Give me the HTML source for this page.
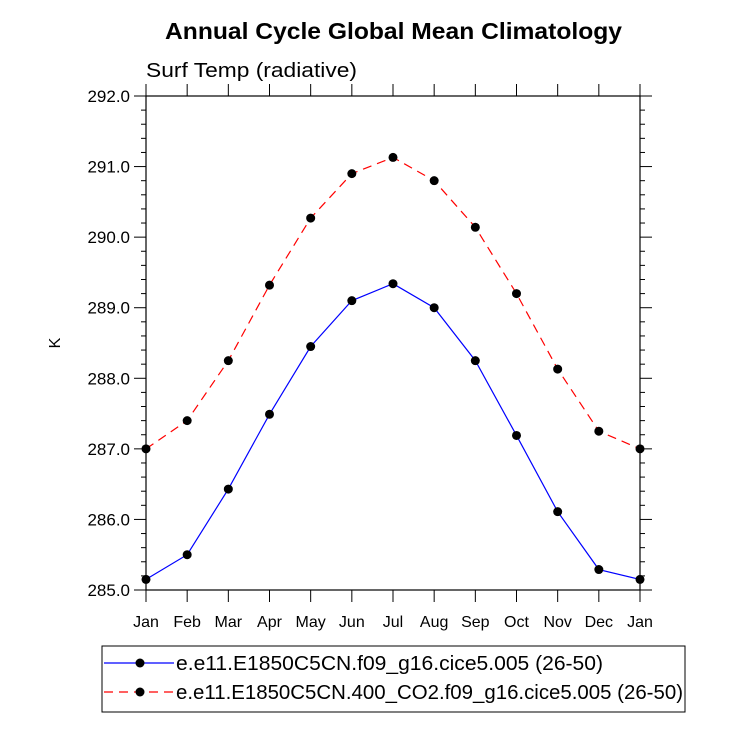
<!DOCTYPE html>
<html><head><meta charset="utf-8"><style>body{margin:0;background:#fff}svg text{font-family:"Liberation Sans",Helvetica,sans-serif}</style></head>
<body>
<svg id="c" width="732" height="732" xmlns="http://www.w3.org/2000/svg">
<text x="165" y="39" font-size="23" font-weight="bold" textLength="457" lengthAdjust="spacingAndGlyphs">Annual Cycle Global Mean Climatology</text>
<text x="146" y="77" font-size="20" textLength="211" lengthAdjust="spacingAndGlyphs">Surf Temp (radiative)</text>
<text x="60" y="343" font-size="16" text-anchor="middle" transform="rotate(-90 60 343)">K</text>
<g id="axes"></g><g id="series"></g>
<rect x="102" y="646" width="583" height="66" fill="none" stroke="#000" stroke-width="1"/>
<g><line x1="104" y1="663" x2="174" y2="663" stroke="#00f" stroke-width="1.2"/><circle cx="140" cy="663" r="4.5"/><text x="176" y="670" font-size="20" textLength="427" lengthAdjust="spacingAndGlyphs">e.e11.E1850C5CN.f09_g16.cice5.005 (26-50)</text></g>
<g><line x1="104" y1="692" x2="174" y2="692" stroke="#f00" stroke-width="1.2" stroke-dasharray="9,6"/><circle cx="140" cy="692" r="4.5"/><text x="176" y="699" font-size="20" textLength="507" lengthAdjust="spacingAndGlyphs">e.e11.E1850C5CN.400_CO2.f09_g16.cice5.005 (26-50)</text></g>
</svg>
<script>
const months=["Jan","Feb","Mar","Apr","May","Jun","Jul","Aug","Sep","Oct","Nov","Dec","Jan"];
const controlVals=[285.15,285.5,286.43,287.49,288.45,289.1,289.34,289.0,288.25,287.19,286.11,285.29,285.15];
const co2Vals=[287.0,287.4,288.25,289.32,290.27,290.9,291.13,290.8,290.14,289.2,288.13,287.25,287.0];
const yTicks=[285,286,287,288,289,290,291,292];
const L=146,R=640,T=96,B=590,ymin=285,ymax=292;
const X=i=>L+(R-L)*i/(months.length-1);
const Y=v=>B-(B-T)*(v-ymin)/(ymax-ymin);
const NS="http://www.w3.org/2000/svg";
function mk(t,a,p){const e=document.createElementNS(NS,t);for(const k in a)e.setAttribute(k,a[k]);p.appendChild(e);return e;}
const ax=document.getElementById('axes'),se=document.getElementById('series');
const fr=mk('rect',{x:L,y:T,width:R-L,height:B-T,fill:'none',stroke:'#000','stroke-width':1.2},ax);


months.forEach((m,i)=>{const x=X(i);
mk('line',{x1:x,y1:B,x2:x,y2:B+12,stroke:'#000'},ax);
mk('line',{x1:x,y1:T,x2:x,y2:T-12,stroke:'#000'},ax);
const t=mk('text',{x:x,y:B+37,'text-anchor':'middle','font-size':16},ax);t.textContent=m;

});
yTicks.forEach(v=>{const y=Y(v);
mk('line',{x1:L,y1:y,x2:L-12,y2:y,stroke:'#000'},ax);
mk('line',{x1:R,y1:y,x2:R+12,y2:y,stroke:'#000'},ax);
const t=mk('text',{x:L-16,y:y+6,'text-anchor':'end','font-size':17},ax);t.textContent=v.toFixed(1);


if(v<ymax)for(let k=1;k<5;k++){const yy=Y(v+k*0.2);
mk('line',{x1:L,y1:yy,x2:L-5,y2:yy,stroke:'#000'},ax);
mk('line',{x1:R,y1:yy,x2:R+5,y2:yy,stroke:'#000'},ax);}});
function draw(vals,col,dash,name){const g=mk('g',{},se);


mk('polyline',{points:vals.map((v,i)=>X(i)+','+Y(v)).join(' '),fill:'none',stroke:col,'stroke-width':1.2,'stroke-dasharray':dash},g);
vals.forEach((v,i)=>{const c=mk('circle',{cx:X(i),cy:Y(v),r:4.5},g);

});}
draw(controlVals,'#00f','none','series-control');
draw(co2Vals,'#f00','9,6','series-co2');
</script>
</body></html>
